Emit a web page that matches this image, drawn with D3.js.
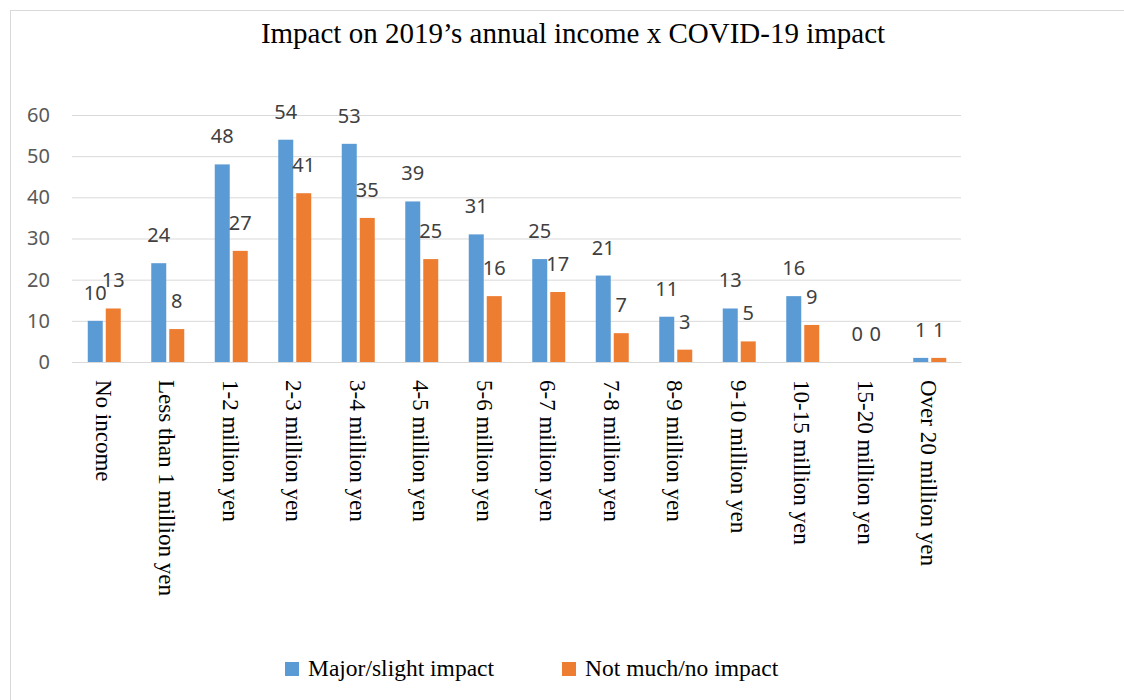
<!DOCTYPE html>
<html>
<head>
<meta charset="utf-8">
<title>Impact on 2019's annual income x COVID-19 impact</title>
<script src="https://d3js.org/d3.v7.min.js"></script>
<style>
  body { margin: 0; background: #fff; }
  .serif { font-family: "Liberation Serif", "DejaVu Serif", serif; }
  .tick text { font-family: "Noto Sans", sans-serif; }
</style>
</head>
<body>
<div id="chart"></div>
<script>
// data
var categories = ["No income", "Less than 1 million yen", "1-2 million yen", "2-3 million yen",
  "3-4 million yen", "4-5 million yen", "5-6 million yen", "6-7 million yen", "7-8 million yen",
  "8-9 million yen", "9-10 million yen", "10-15 million yen", "15-20 million yen", "Over 20 million yen"];
var major = [10, 24, 48, 54, 53, 39, 31, 25, 21, 11, 13, 16, 0, 1];
var notMuch = [13, 8, 27, 41, 35, 25, 16, 17, 7, 3, 5, 9, 0, 1];
var seriesNames = ["Major/slight impact", "Not much/no impact"];
var colors = ["#5b9bd5", "#ed7d31"];
var yTicks = [0, 10, 20, 30, 40, 50, 60];

var width = 1124, height = 700;
var margin = { left: 72, right: 163, top: 115, bottom: 338 };

var svg = d3.select("#chart").append("svg")
  .attr("width", width).attr("height", height);

// outer frame
svg.append("rect")
  .attr("x", 10.5).attr("y", 10.5)
  .attr("width", width).attr("height", height)
  .attr("fill", "#fff").attr("stroke", "#d9d9d9");

svg.append("text").attr("class", "serif")
  .attr("x", 573).attr("y", 43)
  .attr("text-anchor", "middle")
  .style("font-size", "29px").style("fill", "#000")
  .text("Impact on 2019\u2019s annual income x COVID-19 impact");

var x = d3.scaleBand().domain(categories)
  .range([margin.left, width - margin.right]);
var y = d3.scaleLinear().domain([0, 60])
  .range([height - margin.bottom, margin.top]);

// gridlines + y labels
var yAxis = svg.append("g")
  .attr("transform", "translate(" + margin.left + ",0)")
  .call(d3.axisLeft(y).tickValues(yTicks)
    .tickSize(-(width - margin.left - margin.right)).tickPadding(22));
yAxis.select(".domain").remove();
yAxis.selectAll(".tick line").attr("stroke", "#d9d9d9");
yAxis.selectAll(".tick text").style("font-size", "20px").attr("fill", "#595959");

var barW = 15;
var offsets = [-16, 2];
[major, notMuch].forEach(function (vals, s) {
  var g = svg.append("g");
  g.selectAll("rect").data(vals).enter().append("rect")
    .attr("x", function (d, i) { return x(categories[i]) + x.bandwidth() / 2 + offsets[s]; })
    .attr("y", function (d) { return y(d); })
    .attr("width", barW)
    .attr("height", function (d) { return y(0) - y(d); })
    .attr("fill", colors[s]);
  g.selectAll("text").data(vals).enter().append("text")
    .attr("x", function (d, i) { return x(categories[i]) + x.bandwidth() / 2 + offsets[s] + barW / 2; })
    .attr("y", function (d) { return y(d) - 21; })
    .attr("text-anchor", "middle")
    .style("font-family", "'Noto Sans', sans-serif")
    .style("font-size", "20px").style("fill", "#404040")
    .text(function (d) { return d; });
});

// category labels, rotated
var xAxis = svg.append("g")
  .attr("transform", "translate(0," + y(0) + ")")
  .call(d3.axisBottom(x).tickSize(0).tickPadding(0));
xAxis.select(".domain").attr("stroke", "#d9d9d9");
xAxis.selectAll(".tick text")
  .attr("class", "serif")
  .style("font-family", "'Liberation Serif', serif")
  .style("font-size", "23px").attr("fill", "#000")
  .attr("text-anchor", "start")
  .attr("dy", "0.35em")
  .attr("transform", "translate(0,18) rotate(90)");

// legend
var legend = svg.append("g");
var legendX = [285, 562];
seriesNames.forEach(function (name, i) {
  legend.append("rect")
    .attr("x", legendX[i]).attr("y", 662)
    .attr("width", 14).attr("height", 14)
    .attr("fill", colors[i]);
  legend.append("text").attr("class", "serif")
    .attr("x", legendX[i] + 23).attr("y", 676)
    .style("font-size", "23.5px").style("fill", "#000")
    .text(name);
});
</script>
</body>
</html>
